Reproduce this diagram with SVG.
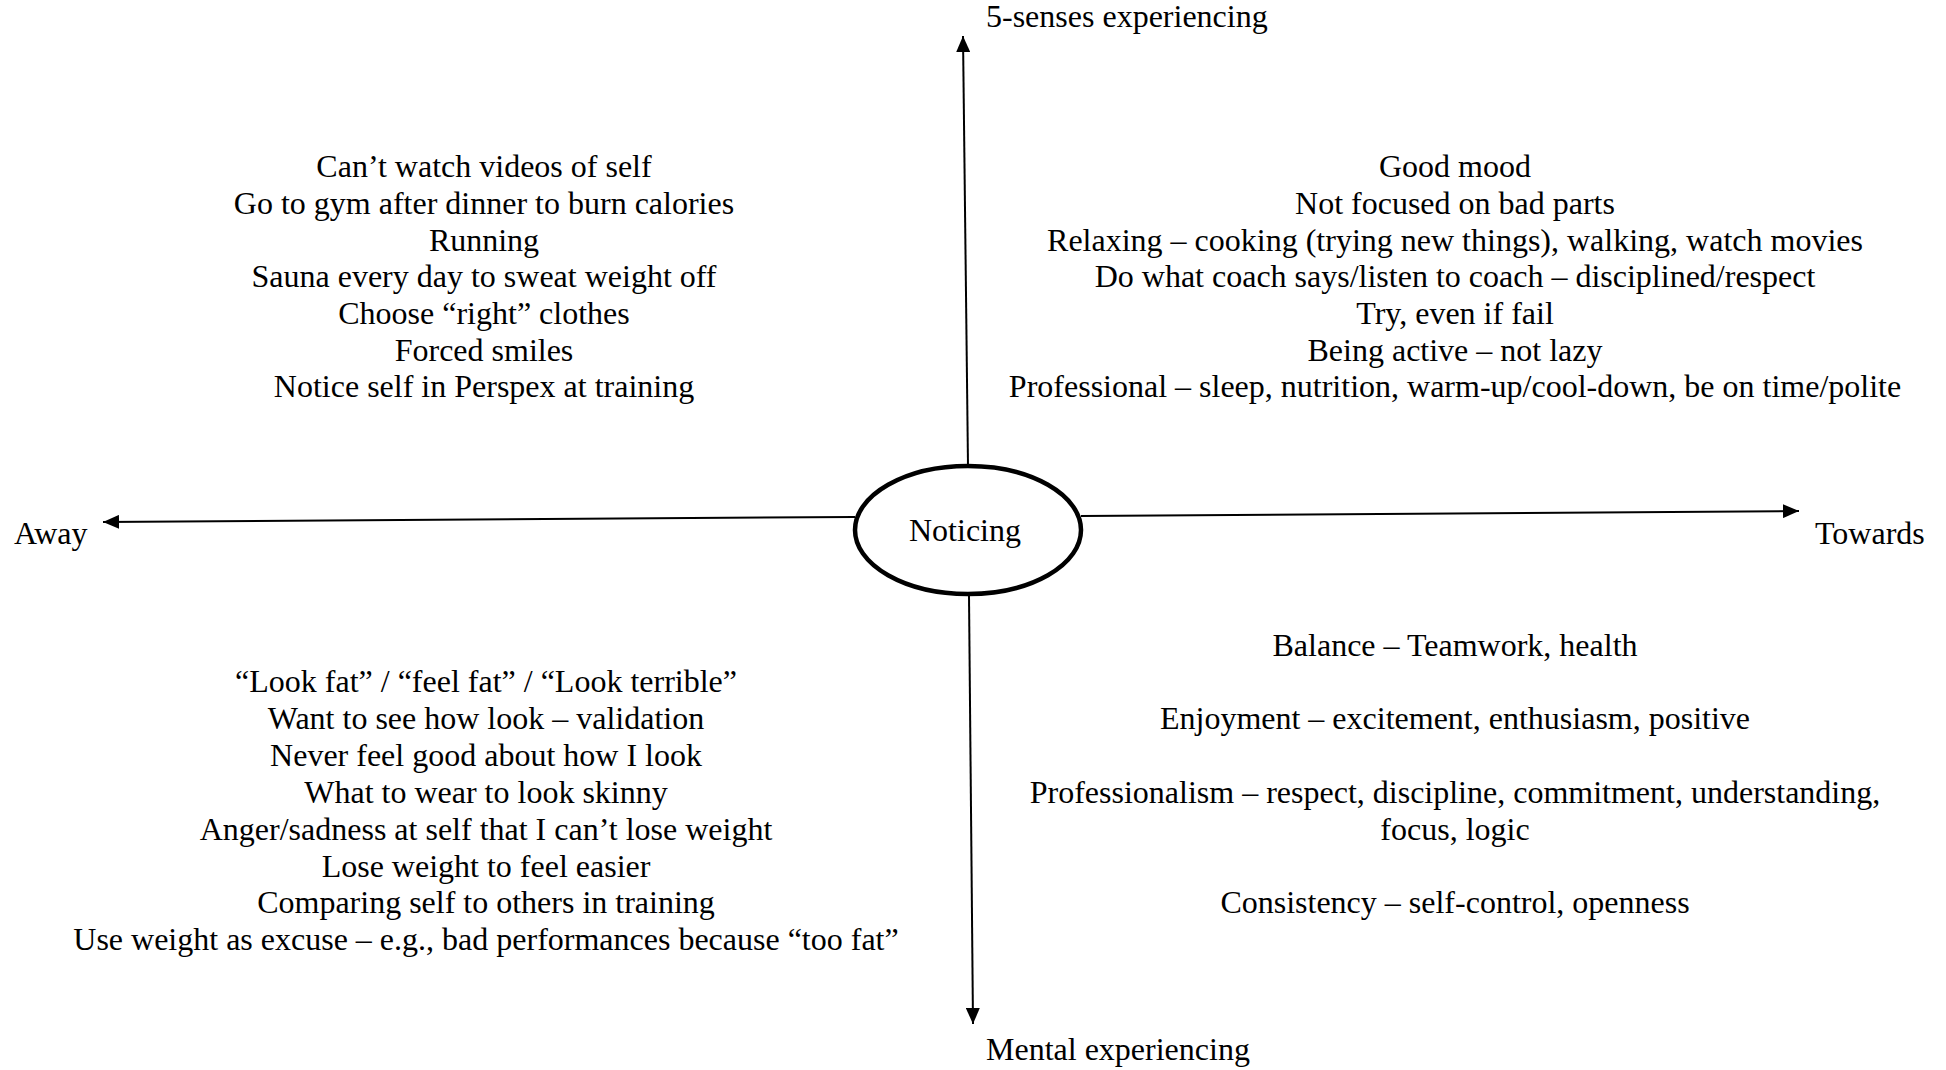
<svg xmlns="http://www.w3.org/2000/svg" width="1946" height="1070" viewBox="0 0 1946 1070">
<defs>
<style>
text{font-family:"Liberation Serif","Times New Roman",serif;font-size:32px;fill:#000}
.c{text-anchor:middle}
.axis{stroke:#000;stroke-width:2;fill:none}
</style>
<marker id="arr" markerUnits="userSpaceOnUse" markerWidth="18" markerHeight="14" refX="16" refY="7" orient="auto">
<path d="M0,0 L16,7 L0,14 Z" fill="#000"/>
</marker>
</defs>
<rect width="1946" height="1070" fill="#fff"/>
<g id="connectors">
<line class="axis" x1="968" y1="466" x2="963" y2="36" marker-end="url(#arr)"/>
<line class="axis" x1="969" y1="596" x2="973" y2="1024" marker-end="url(#arr)"/>
<line class="axis" x1="855" y1="517" x2="103" y2="522" marker-end="url(#arr)"/>
<line class="axis" x1="1081" y1="516" x2="1799" y2="511" marker-end="url(#arr)"/>
</g>
<g id="center">
<ellipse cx="968" cy="530" rx="113" ry="64" fill="#fff" stroke="#000" stroke-width="4.5"/>
<text class="c" x="965" y="541" font-size="30">Noticing</text>
</g>
<g id="label-top"><text x="986" y="27">5-senses experiencing</text></g>
<g id="label-bottom"><text x="986" y="1060">Mental experiencing</text></g>
<g id="label-left"><text x="14" y="544">Away</text></g>
<g id="label-right"><text x="1815" y="544">Towards</text></g>
<g id="upper-left">
<text class="c" x="484" y="177">Can’t watch videos of self</text>
<text class="c" x="484" y="214">Go to gym after dinner to burn calories</text>
<text class="c" x="484" y="251">Running</text>
<text class="c" x="484" y="287">Sauna every day to sweat weight off</text>
<text class="c" x="484" y="324">Choose “right” clothes</text>
<text class="c" x="484" y="361">Forced smiles</text>
<text class="c" x="484" y="397">Notice self in Perspex at training</text>
</g>
<g id="upper-right">
<text class="c" x="1455" y="177">Good mood</text>
<text class="c" x="1455" y="214">Not focused on bad parts</text>
<text class="c" x="1455" y="251">Relaxing – cooking (trying new things), walking, watch movies</text>
<text class="c" x="1455" y="287">Do what coach says/listen to coach – disciplined/respect</text>
<text class="c" x="1455" y="324">Try, even if fail</text>
<text class="c" x="1455" y="361">Being active – not lazy</text>
<text class="c" x="1455" y="397">Professional – sleep, nutrition, warm-up/cool-down, be on time/polite</text>
</g>
<g id="lower-left">
<text class="c" x="486" y="692">“Look fat” / “feel fat” / “Look terrible”</text>
<text class="c" x="486" y="729">Want to see how look – validation</text>
<text class="c" x="486" y="766">Never feel good about how I look</text>
<text class="c" x="486" y="803">What to wear to look skinny</text>
<text class="c" x="486" y="840">Anger/sadness at self that I can’t lose weight</text>
<text class="c" x="486" y="877">Lose weight to feel easier</text>
<text class="c" x="486" y="913">Comparing self to others in training</text>
<text class="c" x="486" y="950">Use weight as excuse – e.g., bad performances because “too fat”</text>
</g>
<g id="lower-right">
<text class="c" x="1455" y="656">Balance – Teamwork, health</text>
<text class="c" x="1455" y="729">Enjoyment – excitement, enthusiasm, positive</text>
<text class="c" x="1455" y="803">Professionalism – respect, discipline, commitment, understanding,</text>
<text class="c" x="1455" y="840">focus, logic</text>
<text class="c" x="1455" y="913">Consistency – self-control, openness</text>
</g>
</svg>
